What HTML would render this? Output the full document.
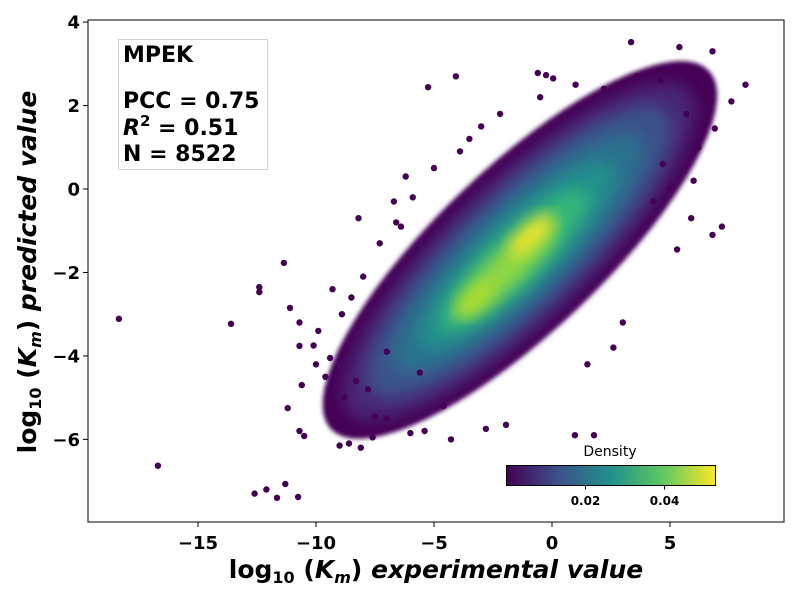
<!DOCTYPE html>
<html><head><meta charset="utf-8">
<style>
body{margin:0;background:#fff;}
svg{display:block;font-family:"DejaVu Sans","Liberation Sans",sans-serif;}
</style></head>
<body>
<svg id="chart" width="800" height="600" viewBox="0 0 800 600">
<defs>
<filter id="blur" x="-20%" y="-20%" width="140%" height="140%"><feGaussianBlur stdDeviation="8"/></filter>
<filter id="blur2" x="-20%" y="-20%" width="140%" height="140%"><feGaussianBlur stdDeviation="2"/></filter>
<linearGradient id="viridis" x1="0" x2="1" y1="0" y2="0">
<stop offset="0" stop-color="#440154"/><stop offset="0.25" stop-color="#3b528b"/><stop offset="0.5" stop-color="#21918c"/><stop offset="0.75" stop-color="#5ec962"/><stop offset="1" stop-color="#fde725"/>
</linearGradient>
<clipPath id="plotclip"><rect x="88" y="20" width="696" height="502"/></clipPath>
</defs>
<rect x="0" y="0" width="800" height="600" fill="#fff"/>
<g id="cloud" clip-path="url(#plotclip)"></g>
<g id="points" clip-path="url(#plotclip)"></g>
<rect x="88" y="20" width="696" height="502" fill="none" stroke="#000" stroke-width="1"/>
<g id="xticks"></g>
<g id="yticks"></g>
<text x="436" y="578" text-anchor="middle" font-size="25" font-weight="bold">log<tspan font-size="16" dy="5">10</tspan><tspan dy="-5"> (</tspan><tspan font-style="italic">K</tspan><tspan font-style="italic" font-size="16" dy="5">m</tspan><tspan dy="-5">) </tspan><tspan font-style="italic">experimental value</tspan></text>
<text transform="translate(36,272) rotate(-90)" text-anchor="middle" font-size="25" font-weight="bold">log<tspan font-size="16" dy="5">10</tspan><tspan dy="-5"> (</tspan><tspan font-style="italic">K</tspan><tspan font-style="italic" font-size="16" dy="5">m</tspan><tspan dy="-5">) </tspan><tspan font-style="italic">predicted value</tspan></text>
<g>
<rect x="118.5" y="39.5" width="149" height="130" fill="#fff" fill-opacity="0.8" stroke="#d0d0d0"/>
<text x="123" y="62" font-size="22" font-weight="bold">MPEK</text>
<text x="123" y="108" font-size="22" font-weight="bold">PCC = 0.75</text>
<text x="123" y="135" font-size="22" font-weight="bold"><tspan font-style="italic">R</tspan><tspan font-size="15" dy="-9">2</tspan><tspan dy="9"> = 0.51</tspan></text>
<text x="123" y="161" font-size="22" font-weight="bold">N = 8522</text>
</g>
<g id="colorbar">
<text x="610" y="456" text-anchor="middle" font-size="14">Density</text>
<rect x="506.5" y="465.5" width="209" height="20" fill="url(#viridis)" stroke="#000"/>
</g>
</svg>
<script>
// axis domains
const xDomain = [-19.66, 9.83];
const yDomain = [-7.98, 4.05];
const xTickValues = [-15, -10, -5, 0, 5];
const yTickValues = [-6, -4, -2, 0, 2, 4];
const cbTickValues = [0.02, 0.04];
const cbDomain = [0.0, 0.0529];
// cloud principal axes (data units): major half-axis vector and minor half-axis vector
const majorAxis = [8.0, 4.3];
const minorAxis = [-2.42, 1.42];
// density layers: colour, centre x, centre y, major scale, minor scale
const layerColors = ["#440154", "#482576", "#3b528b", "#2c728e", "#21918c", "#35b779", "#90d743", "#b5de2b", "#fde725"];
const layerCx = [-1.36, -1.4, -1.4, -1.45, -1.5, -1.6, -1.9, -3.3, -0.9];
const layerCy = [-1.46, -1.5, -1.5, -1.55, -1.6, -1.7, -1.9, -2.66, -1.1];
const layerSu = [1.0, 0.9, 0.78, 0.64, 0.5, 0.38, 0.26, 0.09, 0.11];
const layerSv = [1.0, 0.85, 0.7, 0.55, 0.42, 0.3, 0.2, 0.1, 0.11];
// outlier points
const ptX = [-18.35,-16.7,-13.6,-12.4,-12.4,-11.36,-11.1,-12.6,-12.1,-11.65,-11.3,-10.76,-10.7,-10.5,-11.2,-10.7,-10.7,-10.6,-9.9,-10.1,-8.6,-9.0,-8.1,-7.6,-7.5,-4.07,-5.25,-0.6,-0.25,0.05,3.35,5.4,6.8,8.2,6.9,7.6,7.2,5.3,6.8,5.9,0.97,1.78,-1.4,-2.8,-1.95,-4.28,-5.4,-6.0,-7.0,-7.8,-8.3,-9.4,-8.8,-6.7,-6.2,-3.9,4.3,4.7,2.6,3.0,-8.2,-9.3,-10.0,-5.9,-6.4,-3.0,5.0,6.2,-9.6,-9.2,-8.9,-8.0,-7.3,-6.6,-5.0,-3.5,-2.2,-0.5,1.0,2.2,3.6,4.6,5.7,6.0,1.5,-4.6,-5.6,-7.0,-8.5];
const ptY = [-3.11,-6.63,-3.23,-2.35,-2.47,-1.77,-2.85,-7.3,-7.2,-7.4,-7.07,-7.38,-5.8,-5.92,-5.25,-3.2,-3.76,-4.7,-3.4,-3.75,-6.1,-6.15,-6.2,-5.95,-5.45,2.7,2.44,2.78,2.73,2.65,3.52,3.4,3.3,2.5,1.45,2.1,-0.9,-1.45,-1.1,-0.7,-5.9,-5.9,-6.8,-5.75,-5.65,-6.0,-5.8,-5.85,-5.5,-4.8,-4.6,-4.05,-5.0,-0.3,0.3,0.9,-0.3,0.6,-3.8,-3.2,-0.7,-2.4,-4.2,-0.2,-0.9,1.5,0.0,1.0,-4.5,-5.4,-3.0,-2.1,-1.3,-0.8,0.5,1.2,1.8,2.2,2.5,2.4,2.7,2.6,1.8,0.2,-4.2,-5.2,-4.4,-3.9,-2.6];

const svg = document.getElementById('chart');
const NS = 'http://www.w3.org/2000/svg';
const L = 88, R = 784, T = 20, B = 522;
function xs(v){ return L + (v - xDomain[0]) / (xDomain[1] - xDomain[0]) * (R - L); }
function ys(v){ return B - (v - yDomain[0]) / (yDomain[1] - yDomain[0]) * (B - T); }
function mk(tag, attrs, parent){ const e = document.createElementNS(NS, tag); for (const k in attrs) e.setAttribute(k, attrs[k]); parent.appendChild(e); return e; }

// cloud layers
const cloud = document.getElementById('cloud');
layerColors.forEach((c, i) => {
  let pts = [];
  for (let t = 0; t < 72; t++) {
    const th = t / 72 * Math.PI * 2;
    const cu = Math.cos(th) * layerSu[i], sv = Math.sin(th) * layerSv[i];
    const x = layerCx[i] + majorAxis[0] * cu + minorAxis[0] * sv;
    const y = layerCy[i] + majorAxis[1] * cu + minorAxis[1] * sv;
    pts.push(xs(x).toFixed(1) + ',' + ys(y).toFixed(1));
  }
  const p = mk('polygon', {points: pts.join(' '), fill: c}, cloud);
  p.setAttribute('filter', i > 0 ? 'url(#blur)' : 'url(#blur2)');
  
  
});

// outlier points
const pg = document.getElementById('points');
ptX.forEach((x, i) => {
  const c = mk('circle', {cx: xs(x).toFixed(1), cy: ys(ptY[i]).toFixed(1), r: 3.2, fill: '#440154'}, pg);
  
  
});

// x ticks
const xg = document.getElementById('xticks');
xTickValues.forEach(v => {
  const x = xs(v);
  const l = mk('line', {x1: x, x2: x, y1: B, y2: B + 5, stroke: '#000'}, xg);
  
  
  const t = mk('text', {x: x, y: B + 27, 'text-anchor': 'middle', 'font-size': 18, 'font-weight': 'bold'}, xg);
  t.textContent = v < 0 ? '\u2212' + Math.abs(v) : String(v);
  
  
});
// y ticks
const yg = document.getElementById('yticks');
yTickValues.forEach(v => {
  const y = ys(v);
  const l = mk('line', {x1: L - 5, x2: L, y1: y, y2: y, stroke: '#000'}, yg);
  
  
  const t = mk('text', {x: L - 8, y: y + 6.5, 'text-anchor': 'end', 'font-size': 18, 'font-weight': 'bold'}, yg);
  t.textContent = v < 0 ? '\u2212' + Math.abs(v) : String(v);
  
  
});
// colorbar ticks
const cg = document.getElementById('colorbar');
cbTickValues.forEach(v => {
  const x = 506.5 + (v - cbDomain[0]) / (cbDomain[1] - cbDomain[0]) * 209;
  const l = mk('line', {x1: x, x2: x, y1: 485.5, y2: 489.5, stroke: '#000'}, cg);
  
  
  const t = mk('text', {x: x, y: 505, 'text-anchor': 'middle', 'font-size': 12, 'font-weight': 'bold'}, cg);
  t.textContent = v.toFixed(2);
  
  
});
</script>
</body></html>
